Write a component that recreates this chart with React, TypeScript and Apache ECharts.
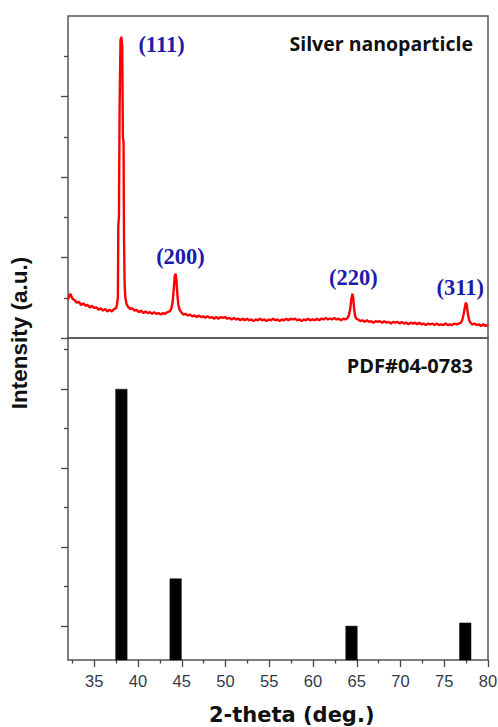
import React, { useEffect, useRef } from 'react';
import * as echarts from 'echarts';

// ---- XRD pattern of silver nanoparticles (2-theta, intensity a.u.) ----
const xrdLowAngle: [number, number][] = [
  [32.0, 48], [32.25, 55], [32.5, 49], [32.75, 47], [33.0, 44], [33.25, 45],
  [33.5, 41], [33.75, 43], [34.0, 40], [34.25, 41], [34.5, 38], [34.75, 40],
  [35.0, 37], [35.25, 38], [35.5, 35], [35.75, 37], [36.0, 34], [36.25, 36],
  [36.5, 33], [36.75, 35], [37.0, 33], [37.25, 36], [37.5, 37],
];
const xrdPeak111: [number, number][] = [
  [37.6, 42], [37.7, 50], [37.75, 140], [37.82, 150], [37.9, 290], [38.0, 370],
  [38.1, 374], [38.2, 362], [38.27, 250], [38.35, 243], [38.4, 125], [38.47, 68],
  [38.55, 50], [38.7, 42],
];
const xrdMid1: [number, number][] = [
  [38.85, 39], [39.1, 36], [39.35, 37], [39.6, 34], [39.85, 35], [40.1, 32],
  [40.35, 34], [40.6, 31], [40.85, 33], [41.1, 31], [41.35, 32], [41.6, 30],
  [41.85, 32], [42.1, 30], [42.35, 31], [42.6, 29], [42.85, 31], [43.1, 30],
  [43.35, 32], [43.6, 33],
];
const xrdPeak200: [number, number][] = [
  [43.8, 36], [43.95, 44], [44.1, 62], [44.2, 77], [44.3, 80], [44.4, 71],
  [44.5, 54], [44.6, 42], [44.75, 35],
];
const xrdMid2: [number, number][] = [
  [44.95, 32], [45.2, 29], [45.45, 30], [45.7, 28], [45.95, 29], [46.2, 27],
  [46.45, 28], [46.7, 26], [46.95, 28], [47.2, 26], [47.45, 27], [47.7, 25],
  [47.95, 27], [48.2, 25], [48.45, 26], [48.7, 24], [48.95, 26], [49.2, 24],
  [49.45, 26], [49.7, 25], [49.95, 26], [50.2, 24], [50.45, 25], [50.7, 23],
  [50.95, 25], [51.2, 23], [51.45, 24], [51.7, 22], [51.95, 24], [52.2, 22],
  [52.45, 24], [52.7, 22], [52.95, 23], [53.2, 21], [53.45, 23], [53.7, 22],
  [53.95, 24], [54.2, 22], [54.45, 23], [54.7, 21], [54.95, 23], [55.2, 22],
  [55.45, 24], [55.7, 22], [55.95, 23], [56.2, 21], [56.45, 23], [56.7, 22],
  [56.95, 24], [57.2, 22], [57.45, 24], [57.7, 23], [57.95, 24], [58.2, 22],
  [58.45, 23], [58.7, 21], [58.95, 23], [59.2, 22], [59.45, 24], [59.7, 22],
  [59.95, 23], [60.2, 22], [60.45, 24], [60.7, 22], [60.95, 24], [61.2, 23],
  [61.45, 25], [61.7, 23], [61.95, 24], [62.2, 23], [62.45, 25], [62.7, 23],
  [62.95, 24], [63.2, 22], [63.45, 24], [63.7, 23], [63.95, 25],
];
const xrdPeak220: [number, number][] = [
  [64.1, 28], [64.25, 36], [64.38, 48], [64.5, 55], [64.6, 49], [64.7, 36],
  [64.82, 27], [64.95, 24],
];
const xrdMid3: [number, number][] = [
  [65.15, 23], [65.4, 21], [65.65, 22], [65.9, 20], [66.15, 22], [66.4, 20],
  [66.65, 21], [66.9, 19], [67.15, 21], [67.4, 20], [67.65, 21], [67.9, 19],
  [68.15, 21], [68.4, 19], [68.65, 20], [68.9, 18], [69.15, 20], [69.4, 19],
  [69.65, 20], [69.9, 18], [70.15, 20], [70.4, 18], [70.65, 19], [70.9, 17],
  [71.15, 19], [71.4, 18], [71.65, 19], [71.9, 17], [72.15, 19], [72.4, 17],
  [72.65, 18], [72.9, 16], [73.15, 18], [73.4, 17], [73.65, 18], [73.9, 16],
  [74.15, 18], [74.4, 16], [74.65, 17], [74.9, 16], [75.15, 18], [75.4, 16],
  [75.65, 17], [75.9, 16], [76.15, 18], [76.4, 17], [76.65, 18], [76.9, 19],
];
const xrdPeak311: [number, number][] = [
  [77.05, 22], [77.2, 29], [77.35, 38], [77.47, 44], [77.57, 41], [77.7, 30],
  [77.85, 22], [78.0, 19],
];
const xrdHighAngle: [number, number][] = [
  [78.2, 17], [78.45, 18], [78.7, 16], [78.95, 17], [79.2, 15], [79.45, 17],
  [79.7, 15], [79.95, 16], [80.0, 15],
];

// ---- Reference card PDF#04-0783 ----
const pdfAngles = [38.1, 44.3, 64.4, 77.4];
const pdfIntensity = [100, 40, 25, 26];

// ---- Axis ticks ----
const xMajorTicks = [35, 40, 45, 50, 55, 60, 65, 70, 75, 80];
const xMinorTicks = [32.5, 37.5, 42.5, 47.5, 52.5, 57.5, 62.5, 67.5, 72.5, 77.5];
const topMajorTicks = [0, 100, 200, 300];
const topMinorTicks = [50, 150, 250, 350];
const bottomMajorTicks = [25, 50, 75, 100];
const bottomMinorTicks = [37.5, 62.5, 87.5, 112.5];

// ---- Texts ----
const peakLabels = ['(111)', '(200)', '(220)', '(311)'];
const sampleLabel = 'Silver nanoparticle';
const cardLabel = 'PDF#04-0783';
const xTitle = '2-theta (deg.)';
const yTitle = 'Intensity (a.u.)';

const xrdPattern = [
  ...xrdLowAngle, ...xrdPeak111, ...xrdMid1, ...xrdPeak200, ...xrdMid2,
  ...xrdPeak220, ...xrdMid3, ...xrdPeak311, ...xrdHighAngle,
];

const frame = '#555';
const tickColor = '#444';
const labelPos = [
  [161.5, 44], [180.5, 256], [353.3, 277], [460.2, 287],
];

function tickAxis(grid: number, min: number, max: number, ticks: number[], len: number, position: string) {
  return {
    gridIndex: grid, type: 'value', min, max, position,
    axisLine: { show: false },
    splitLine: { show: false },
    axisLabel: { show: false },
    axisTick: { show: true, length: len, customValues: ticks, lineStyle: { color: tickColor, width: 1.3 } },
  };
}

export default function App() {
  const ref = useRef<HTMLDivElement>(null);
  useEffect(() => {
    const chart = echarts.init(ref.current!, null, { renderer: 'svg' });
    const option: any = {
      animation: false,
      backgroundColor: '#fff',
      grid: [
        { left: 68, top: 16, width: 420, height: 322, show: true, borderColor: frame, borderWidth: 1.5, backgroundColor: 'transparent', containLabel: false, outerBoundsMode: 'none' },
        { left: 68, top: 338, width: 420, height: 322, show: true, borderColor: frame, borderWidth: 1.5, backgroundColor: 'transparent', containLabel: false, outerBoundsMode: 'none' },
      ],
      xAxis: [
        { gridIndex: 0, type: 'value', min: 32, max: 80, show: false },
        {
          gridIndex: 1, type: 'value', min: 32, max: 80, position: 'bottom',
          axisLine: { show: false },
          splitLine: { show: false },
          axisTick: { show: true, length: 7, customValues: xMajorTicks, lineStyle: { color: tickColor, width: 1.3 } },
          axisLabel: {
            show: true, customValues: xMajorTicks, margin: 12,
            fontSize: 16.5, fontFamily: 'Liberation Sans, Arial, sans-serif', color: '#333a4d',
          },
        },
        tickAxis(1, 32, 80, xMinorTicks, 3.5, 'bottom'),
      ],
      yAxis: [
        tickAxis(0, 0, 400, topMajorTicks, 7, 'left'),
        tickAxis(0, 0, 400, topMinorTicks, 4, 'left'),
        tickAxis(1, 14.2, 116.1, bottomMajorTicks, 7, 'left'),
        tickAxis(1, 14.2, 116.1, bottomMinorTicks, 4, 'left'),
      ],
      series: [
        {
          type: 'line', xAxisIndex: 0, yAxisIndex: 0, data: xrdPattern,
          showSymbol: false, symbol: 'none', silent: true,
          lineStyle: { color: '#ff0000', width: 2.4 },
        },
        {
          type: 'bar', xAxisIndex: 1, yAxisIndex: 2, barWidth: 12, silent: true,
          data: pdfAngles.map((a, i) => [a, pdfIntensity[i]]),
          itemStyle: { color: '#000', borderColor: '#111', borderWidth: 0.5 },
        },
      ],
      graphic: [
        ...peakLabels.map((t, i) => ({
          type: 'text', x: labelPos[i][0], y: labelPos[i][1], silent: true,
          style: { text: t, fill: '#1c1caa', font: 'bold 22.5px "Liberation Serif", "Times New Roman", serif', align: 'center', verticalAlign: 'middle' },
        })),
        {
          type: 'text', x: 473, y: 43.5, silent: true,
          style: { text: sampleLabel, fill: '#111', font: 'bold 19.5px "Open Sans", sans-serif', align: 'right', verticalAlign: 'middle' },
        },
        {
          type: 'text', x: 473, y: 365.5, silent: true,
          style: { text: cardLabel, fill: '#111', font: 'bold 20px "Open Sans", sans-serif', align: 'right', verticalAlign: 'middle' },
        },
        {
          type: 'text', x: 291.7, y: 715, silent: true,
          style: { text: xTitle, fill: '#111', font: 'bold 21px "DejaVu Sans", sans-serif', align: 'center', verticalAlign: 'middle' },
        },
        {
          type: 'text', x: 19.5, y: 333, rotation: Math.PI / 2, silent: true,
          style: { text: yTitle, fill: '#111', font: 'bold 22.5px "Liberation Sans", Arial, sans-serif', align: 'center', verticalAlign: 'middle' },
        },
      ],
    };
    chart.setOption(option);
    return () => chart.dispose();
  }, []);
  return (
    <div
      ref={ref}
      style={{ position: 'fixed', left: 0, top: 0, width: 498, height: 727, background: '#fff' }}
    />
  );
}
